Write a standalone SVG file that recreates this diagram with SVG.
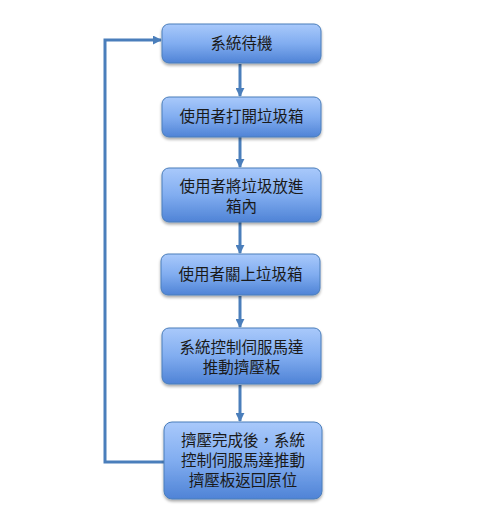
<svg xmlns="http://www.w3.org/2000/svg" width="489" height="525" viewBox="0 0 489 525">
<defs>
<linearGradient id="g" x1="0" y1="0" x2="0" y2="1">
<stop offset="0" stop-color="#a9c9fb"/>
<stop offset="0.5" stop-color="#81adf0"/>
<stop offset="1" stop-color="#4f83d6"/>
</linearGradient>
<filter id="sh" x="-10%" y="-10%" width="120%" height="130%">
<feGaussianBlur in="SourceAlpha" stdDeviation="1.5"/>
<feOffset dy="2" result="b"/>
<feComponentTransfer><feFuncA type="linear" slope="0.35"/></feComponentTransfer>
<feMerge><feMergeNode/><feMergeNode in="SourceGraphic"/></feMerge>
</filter>
<marker id="ah" viewBox="0 0 10 10" refX="9" refY="5" markerWidth="3" markerHeight="3" orient="auto" markerUnits="strokeWidth">
<path d="M0,0 L10,5 L0,10 z" fill="#4a7ebb"/>
</marker>
</defs>
<style>
.box{fill:url(#g);stroke:#4a7ebb;stroke-width:1;filter:url(#sh)}
.t{font-family:"Noto Sans CJK TC","Noto Sans CJK SC",sans-serif;font-size:15.5px;fill:#1a1a1a;text-anchor:middle}
.c{stroke:#4a7ebb;stroke-width:3;fill:none}
</style>
<rect width="489" height="525" fill="#ffffff"/>
<g id="connectors">
<line class="c" x1="240" y1="64" x2="240" y2="96" marker-end="url(#ah)"/>
<line class="c" x1="240" y1="137" x2="240" y2="167" marker-end="url(#ah)"/>
<line class="c" x1="240" y1="222" x2="240" y2="253" marker-end="url(#ah)"/>
<line class="c" x1="240" y1="296" x2="240" y2="327" marker-end="url(#ah)"/>
<line class="c" x1="240" y1="385" x2="240" y2="421" marker-end="url(#ah)"/>
<polyline class="c" points="164,462 105,462 105,40 161,40" marker-end="url(#ah)"/>
</g>
<g id="n1"><rect class="box" x="162" y="24" width="159" height="39" rx="7"/><text class="t" x="241.5" y="49">系統待機</text></g>
<g id="n2"><rect class="box" x="162" y="97" width="159" height="40" rx="7"/><text class="t" x="241.5" y="122">使用者打開垃圾箱</text></g>
<g id="n3"><rect class="box" x="162" y="168" width="159" height="54" rx="7"/><text class="t" x="241.5" y="192">使用者將垃圾放進</text><text class="t" x="241.5" y="212">箱內</text></g>
<g id="n4"><rect class="box" x="161" y="254" width="159" height="41" rx="7"/><text class="t" x="240.5" y="280">使用者關上垃圾箱</text></g>
<g id="n5"><rect class="box" x="162" y="328" width="159" height="56" rx="7"/><text class="t" x="241.5" y="353">系統控制伺服馬達</text><text class="t" x="241.5" y="373">推動擠壓板</text></g>
<g id="n6"><rect class="box" x="164" y="422" width="158" height="77" rx="8"/><text class="t" x="243" y="446">擠壓完成後，系統</text><text class="t" x="243" y="466">控制伺服馬達推動</text><text class="t" x="243" y="486">擠壓板返回原位</text></g>
</svg>
